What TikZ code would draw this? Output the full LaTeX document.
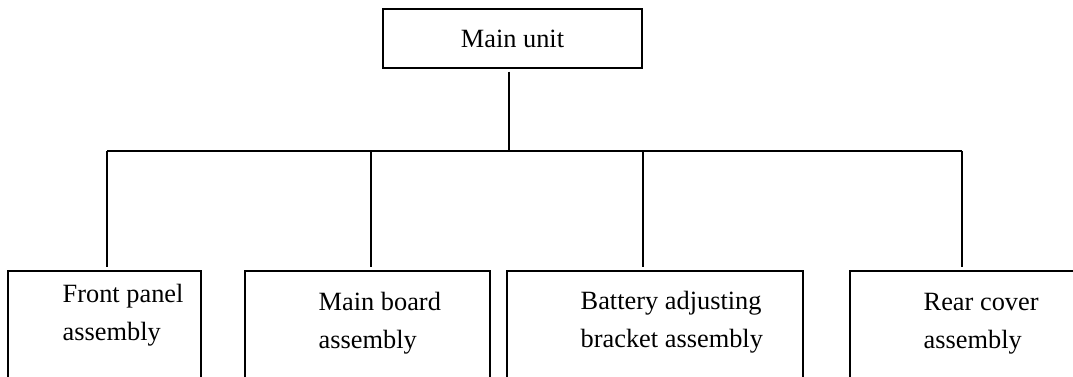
\documentclass[tikz,border=0pt]{standalone}
\usepackage{fontspec}
\setmainfont{Liberation Serif}

\begin{document}
\begin{tikzpicture}[x=0.02cm,y=-0.02cm,thick,
  every node/.style={font=\fontsize{15}{22}\selectfont},
  part/.style={draw,minimum height=2.58cm,inner sep=0pt},
  tag/.style={anchor=base west,align=left,inner sep=0pt}]
  \useasboundingbox (0,0) rectangle (1073,377);
  \clip (0,0) rectangle (1073,377);
  \node[draw,minimum width=5.18cm,minimum height=1.18cm] (main) at (512.5,38.5) {Main unit};
  \node[part,minimum width=3.86cm] (front) at (104.5,335.5) {};
  \node[part,minimum width=4.9cm] (board) at (367.5,335.5) {};
  \node[part,minimum width=5.92cm] (bracket) at (655,335.5) {};
  \node[part,minimum width=5cm] (rear) at (975,335.5) {};
  % last-line baselines
  \node[tag] (front-t) at (62,341) {Front panel\\assembly};
  \node[tag] (board-t) at (318,349) {Main board\\assembly};
  \node[tag] (bracket-t) at (580,348) {Battery adjusting\\bracket assembly};
  \node[tag] (rear-t) at (923,349) {Rear cover\\assembly};
  \coordinate (hub) at (509,151);
  \coordinate (d1) at (107,151);
  \coordinate (d2) at (371,151);
  \coordinate (d3) at (643,151);
  \coordinate (d4) at (962,151);
  \draw[shorten <=1.7pt] (main.south -| hub) -- (hub);
  \draw (d1) -- (d4);
  \foreach \d/\n in {d1/front,d2/board,d3/bracket,d4/rear}
    \draw[shorten >=1.7pt] (\d) -- (\d |- \n.north);
\end{tikzpicture}
\end{document}
